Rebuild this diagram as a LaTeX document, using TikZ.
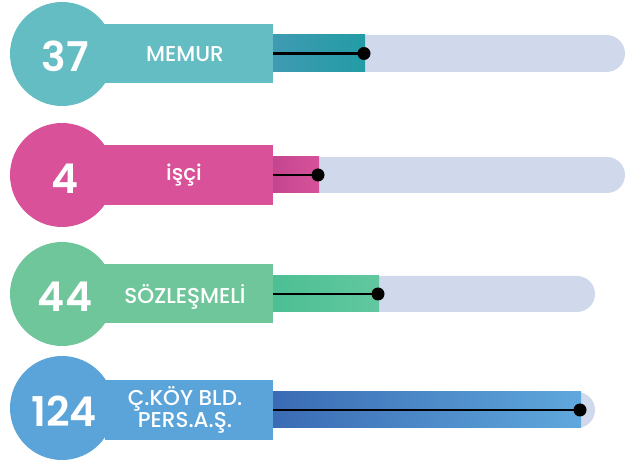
\documentclass[tikz,border=0pt]{standalone}
\usepackage{fontspec}
\setmainfont{Poppins}
\newfontfamily\popmed{Poppins Medium}
\newfontfamily\popsemi{Poppins SemiBold}
\definecolor{cteal}{HTML}{65BDC4}
\definecolor{cpink}{HTML}{D85199}
\definecolor{cgreen}{HTML}{70C69B}
\definecolor{cblue}{HTML}{5BA4D9}
\definecolor{tealA}{HTML}{3F9BB2}
\definecolor{tealB}{HTML}{229CA5}
\definecolor{pinkA}{HTML}{C4468F}
\definecolor{pinkB}{HTML}{D6529A}
\definecolor{greenA}{HTML}{4DBF94}
\definecolor{greenB}{HTML}{62C79E}
\definecolor{blueA}{HTML}{3A6BB4}
\definecolor{blueB}{HTML}{5FA8DC}
\definecolor{track}{HTML}{D0D9EC}
\tikzset{
  numtxt/.style={text=white,font=\popsemi\fontsize{41}{44}\selectfont,inner sep=0pt},
  labtxt/.style={text=white,font=\popmed\fontsize{21.5}{22}\selectfont,inner sep=0pt,align=center},
  dotnode/.style={circle,fill=black,inner sep=0pt,minimum size=13pt},
  stem/.style={black,line width=2.5pt},
}
\begin{document}
\begin{tikzpicture}[x=1pt,y=-1pt]
\useasboundingbox (0,0) rectangle (630,462);
% ---- row 1
\fill[cteal] (62,54) circle (52);
\fill[cteal] (105,24) rectangle (273,83);
\fill[track,rounded corners=18.5pt] (273,35) rectangle (625,72);
\shade[left color=tealA,right color=tealB] (273,35) rectangle (365,72);
\node[numtxt] (n1) at (65,56) {37};
\node[labtxt] (l1) at (185,54) {MEMUR};
\coordinate (s1) at (273,53.5);
\node[dotnode] (d1) at (364,53.5) {};
\draw[stem] (s1) -- (d1.center);
% ---- row 2
\fill[cpink] (62,175) circle (52);
\fill[cpink] (105,145) rectangle (273,205);
\fill[track,rounded corners=18pt] (273,157) rectangle (625,193);
\shade[left color=pinkA,right color=pinkB] (273,157) rectangle (319,193);
\node[numtxt] (n2) at (65,179) {4};
\node[labtxt] (l2) at (184,175) {işçi};
\coordinate (s2) at (273,175);
\node[dotnode] (d2) at (318,175) {};
\draw[stem] (s2) -- (d2.center);
% ---- row 3
\fill[cgreen] (62,294) circle (52);
\fill[cgreen] (105,264) rectangle (273,323);
\fill[track,rounded corners=18pt] (273,276) rectangle (595,312);
\shade[left color=greenA,right color=greenB] (273,276) rectangle (379,312);
\node[numtxt] (n3) at (65,297) {44};
\node[labtxt] (l3) at (185,297) {SÖZLEŞMELİ};
\coordinate (s3) at (273,294);
\node[dotnode] (d3) at (378,294) {};
\draw[stem] (s3) -- (d3.center);
% ---- row 4
\fill[cblue] (62,408) circle (52);
\fill[cblue] (105,380) rectangle (273,440);
\fill[track,rounded corners=18pt] (273,392) rectangle (595,428);
\shade[left color=blueA,right color=blueB] (273,392) rectangle (581,428);
\node[numtxt] (n4) at (64,411) {124};
\node[labtxt] (l4) at (185,410) {Ç.KÖY BLD.\\PERS.A.Ş.};
\coordinate (s4) at (273,410);
\node[dotnode] (d4) at (580,410) {};
\draw[stem] (s4) -- (d4.center);
\end{tikzpicture}
\end{document}
